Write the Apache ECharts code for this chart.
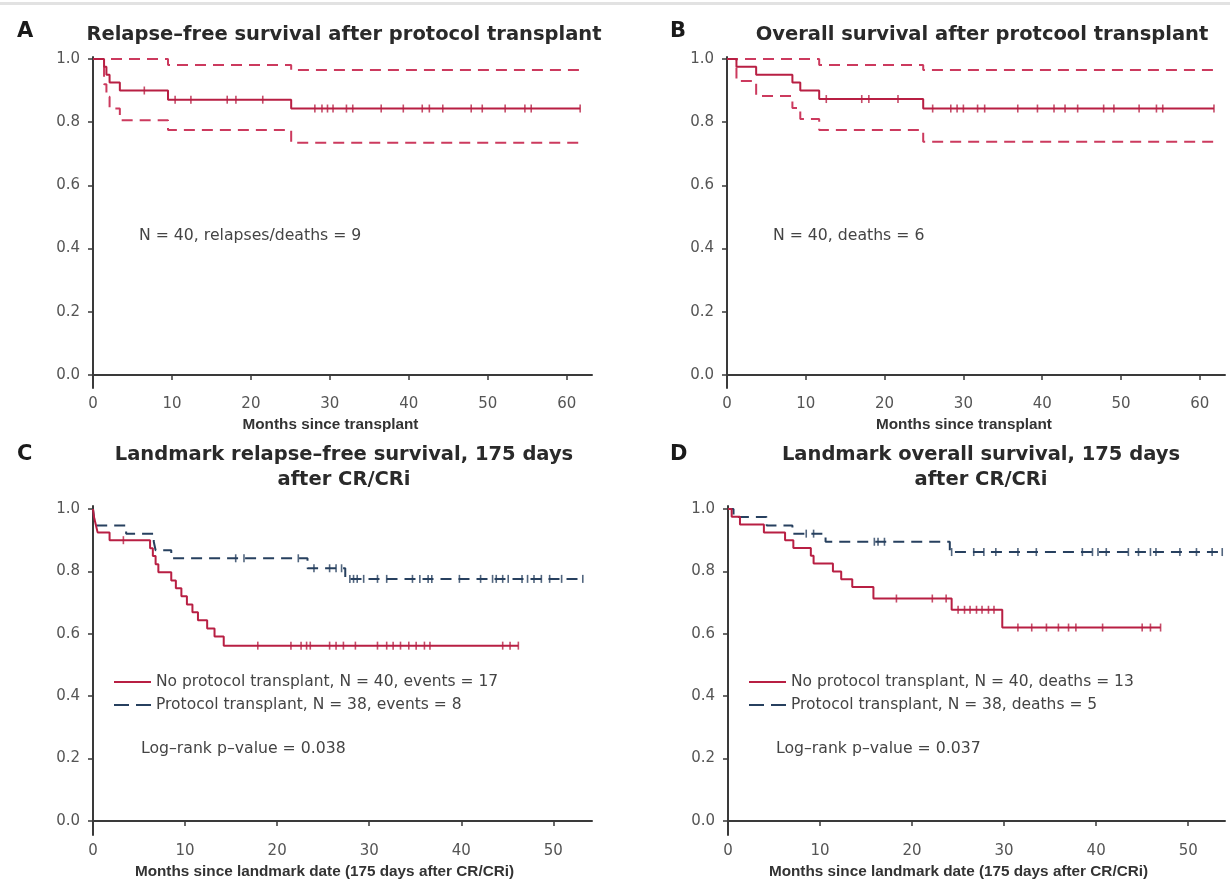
<!DOCTYPE html>
<html><head><meta charset="utf-8">
<script src="https://cdn.jsdelivr.net/npm/echarts@6/dist/echarts.min.js"></script>
<style>html,body{margin:0;padding:0;background:#fff}#c{width:1230px;height:889px}</style>
</head><body><div id="c"></div>
<script>
// ---------- Panel A: relapse-free survival after protocol transplant ----------
const A_eventT = [1.4, 1.7, 2.1, 3.4, 9.5, 25.1];
const A_surv   = [0.975, 0.95, 0.925, 0.90, 0.871, 0.843];
const A_end    = 61.7;
const A_censor = [6.5, 10.4, 12.4, 17.0, 18.1, 21.5, 28.1, 29.0, 29.7, 30.4, 32.1, 32.9, 36.5, 39.3, 41.7, 42.6, 44.3, 47.9, 49.3, 52.2, 54.7, 55.5, 61.7];
const A_upperT = [9.5, 25.1];
const A_upperS = [0.981, 0.965];
const A_lowerT = [1.4, 1.7, 2.1, 3.4, 9.5, 25.1];
const A_lowerS = [0.92, 0.88, 0.843, 0.806, 0.775, 0.735];

// ---------- Panel B: overall survival after protocol transplant ----------
const B_eventT = [1.2, 3.7, 8.3, 9.3, 11.7, 24.9];
const B_surv   = [0.975, 0.95, 0.925, 0.90, 0.873, 0.843];
const B_end    = 61.8;
const B_censor = [12.6, 17.1, 18.0, 21.7, 26.1, 28.4, 29.2, 30.0, 31.8, 32.7, 36.9, 39.4, 41.5, 42.9, 44.5, 47.8, 49.1, 52.3, 54.5, 55.3, 61.8];
const B_upperT = [11.7, 24.9];
const B_upperS = [0.981, 0.965];
const B_lowerT = [1.2, 3.7, 8.3, 9.3, 11.7, 24.9];
const B_lowerS = [0.93, 0.883, 0.845, 0.81, 0.775, 0.738];

// ---------- Panel C: landmark relapse-free survival ----------
const Cr_eventT = [0.1, 0.3, 0.5, 1.8, 6.2, 6.5, 6.8, 7.1, 8.5, 9.0, 9.6, 10.2, 10.8, 11.4, 12.4, 13.2, 14.2];
const Cr_surv   = [0.975, 0.95, 0.925, 0.90, 0.874, 0.849, 0.823, 0.797, 0.771, 0.746, 0.72, 0.694, 0.669, 0.643, 0.617, 0.591, 0.562];
const Cr_end    = 46.2;
const Cr_censor = [3.3, 17.9, 21.5, 22.6, 23.2, 23.6, 25.7, 26.4, 27.2, 28.5, 30.9, 31.9, 32.6, 33.4, 34.3, 35.1, 36.0, 36.6, 44.5, 45.3, 46.2];
const Cb_eventT = [0.1, 0.2, 3.6, 6.6, 6.8, 8.5, 23.3, 27.4];
const Cb_surv   = [0.974, 0.947, 0.921, 0.895, 0.868, 0.842, 0.81, 0.776];
const Cb_end    = 53.2;
const Cb_censor = [15.5, 16.4, 22.3, 24.0, 25.7, 26.4, 27.0, 27.9, 28.3, 28.7, 29.4, 30.9, 31.9, 34.7, 35.5, 36.4, 36.8, 39.8, 42.1, 43.4, 43.8, 44.5, 45.1, 46.6, 47.2, 47.9, 48.7, 49.6, 50.9, 53.2];

// ---------- Panel D: landmark overall survival ----------
const Dr_eventT = [0.4, 1.3, 3.9, 6.2, 7.1, 9.0, 9.3, 11.4, 12.3, 13.5, 15.8, 24.3, 29.8];
const Dr_surv   = [0.975, 0.95, 0.925, 0.90, 0.875, 0.85, 0.825, 0.80, 0.775, 0.75, 0.713, 0.677, 0.62];
const Dr_end    = 47.0;
const Dr_censor = [18.3, 22.2, 23.7, 25.0, 25.7, 26.3, 27.0, 27.6, 28.3, 28.9, 31.5, 33.0, 34.6, 35.9, 37.0, 37.8, 40.7, 45.0, 45.9, 47.0];
const Db_eventT = [0.6, 4.2, 7.0, 10.6, 24.1];
const Db_surv   = [0.974, 0.947, 0.921, 0.895, 0.862];
const Db_end    = 53.7;
const Db_censor = [8.5, 9.3, 15.9, 16.3, 17.0, 24.3, 26.7, 27.8, 29.1, 31.5, 33.5, 38.5, 39.6, 40.2, 41.1, 43.5, 44.6, 45.9, 46.5, 49.1, 50.9, 52.6, 53.7];

// ---------- ticks & labels ----------
const yTicks = [0, 0.2, 0.4, 0.6, 0.8, 1.0];
const xTicksAB = [0, 10, 20, 30, 40, 50, 60];
const xTicksCD = [0, 10, 20, 30, 40, 50];
const titles = {
  A: 'Relapse\u2013free survival after protocol transplant',
  B: 'Overall survival after protcool transplant',
  C: 'Landmark relapse\u2013free survival, 175 days\nafter CR/CRi',
  D: 'Landmark overall survival, 175 days\nafter CR/CRi'
};
const xNameAB = 'Months since transplant';
const xNameCD = 'Months since landmark date (175 days after CR/CRi)';
const noteA = 'N = 40, relapses/deaths = 9';
const noteB = 'N = 40, deaths = 6';
const legC = ['No protocol transplant, N = 40, events = 17', 'Protocol transplant, N = 38, events = 8'];
const legD = ['No protocol transplant, N = 40, deaths = 13', 'Protocol transplant, N = 38, deaths = 5'];
const pC = 'Log\u2013rank p\u2013value = 0.038';
const pD = 'Log\u2013rank p\u2013value = 0.037';

// ---------- helpers ----------
function stepData(T, S, end) {
  const d = [[0, 1]];
  T.forEach((t, i) => d.push([t, S[i]]));
  d.push([end, S[S.length - 1]]);
  return d;
}
function survAt(T, S, t) {
  let v = 1;
  for (let i = 0; i < T.length; i++) if (T[i] <= t) v = S[i];
  return v;
}
function censorData(C, T, S) { return C.map(t => [t, survAt(T, S, t)]); }

const RED = '#b81f43', CIRED = '#cc3a5e', BLUE = '#27405f', AX = '#3a3a3a';
const FONT = "'DejaVu Sans', sans-serif";
const NARROW = "'Liberation Sans Narrow', 'Liberation Sans', sans-serif";
const TFONT = "'DejaVu Sans', sans-serif";

const grids = [
  {left: 93, top: 57, width: 499, height: 331},
  {left: 727, top: 57, width: 498, height: 331},
  {left: 93, top: 506, width: 499, height: 329},
  {left: 728, top: 506, width: 497, height: 329}
];
function xAxis(i, max, ticks, name, shift) {
  return {
    type: 'value', gridIndex: i, min: 0, max: max,
    axisLine: {show: true, lineStyle: {color: AX, width: 2}},
    axisTick: {show: true, customValues: ticks, length: 5, lineStyle: {color: AX, width: 1.5}},
    axisLabel: {customValues: ticks, margin: 9, color: '#555', fontSize: 15, fontFamily: FONT},
    splitLine: {show: false},
    name: name, nameLocation: 'middle', nameGap: 29,
    nameTextStyle: {fontFamily: NARROW, fontSize: 15.3, fontWeight: 'bold', color: '#333', padding: [0, shift, 0, 0]}
  };
}
function yAxis(i, min, max) {
  return {
    type: 'value', gridIndex: i, min: min, max: max,
    axisLine: {show: true, lineStyle: {color: AX, width: 2}},
    axisTick: {show: true, customValues: yTicks, length: 5, lineStyle: {color: AX, width: 1.5}},
    axisLabel: {customValues: yTicks, margin: 13, color: '#555', fontSize: 15, fontFamily: FONT, formatter: v => v.toFixed(1)},
    splitLine: {show: false}
  };
}
function stepSeries(name, i, data, color, dashed, width) {
  return {
    name: name, type: 'line', step: 'end', xAxisIndex: i, yAxisIndex: i, data: data,
    symbol: 'none', silent: true, z: dashed ? 3 : 4,
    itemStyle: {color: color},
    lineStyle: {color: color, width: width || 2, type: dashed ? [11, 7] : 'solid'}
  };
}
function censorSeries(i, data, color) {
  return {
    type: 'scatter', xAxisIndex: i, yAxisIndex: i, data: data, silent: true, z: 5,
    symbol: 'rect', symbolSize: [1.6, 8], itemStyle: {color: color}
  };
}

const series = [
  stepSeries('A_up', 0, stepData(A_upperT, A_upperS, A_end), CIRED, true),
  stepSeries('A_lo', 0, stepData(A_lowerT, A_lowerS, A_end), CIRED, true),
  stepSeries('A_km', 0, stepData(A_eventT, A_surv, A_end), RED, false),
  censorSeries(0, censorData(A_censor, A_eventT, A_surv), RED),

  stepSeries('B_up', 1, stepData(B_upperT, B_upperS, B_end), CIRED, true),
  stepSeries('B_lo', 1, stepData(B_lowerT, B_lowerS, B_end), CIRED, true),
  stepSeries('B_km', 1, stepData(B_eventT, B_surv, B_end), RED, false),
  censorSeries(1, censorData(B_censor, B_eventT, B_surv), RED),

  stepSeries(legC[1], 2, stepData(Cb_eventT, Cb_surv, Cb_end), BLUE, true),
  censorSeries(2, censorData(Cb_censor, Cb_eventT, Cb_surv), BLUE),
  stepSeries(legC[0], 2, stepData(Cr_eventT, Cr_surv, Cr_end), RED, false),
  censorSeries(2, censorData(Cr_censor, Cr_eventT, Cr_surv), RED),

  stepSeries(legD[1], 3, stepData(Db_eventT, Db_surv, Db_end), BLUE, true),
  censorSeries(3, censorData(Db_censor, Db_eventT, Db_surv), BLUE),
  stepSeries(legD[0], 3, stepData(Dr_eventT, Dr_surv, Dr_end), RED, false),
  censorSeries(3, censorData(Dr_censor, Dr_eventT, Dr_surv), RED)
];

function txt(text, left, top, style, align) {
  return {text: text, left: left, top: top, textAlign: align || 'left', padding: 0,
    textStyle: Object.assign({fontFamily: FONT, fontSize: 15.7, fontWeight: 'normal', color: '#444'}, style)};
}
const letterStyle = {fontFamily: TFONT, fontSize: 21, fontWeight: 'bold', color: '#1a1a1a'};
const titleStyle = {fontFamily: TFONT, fontSize: 19.5, fontWeight: 'bold', color: '#2a2a2a', lineHeight: 25, align: 'center'};

const legendCommon = {orient: 'vertical', itemWidth: 37, itemHeight: 12, itemGap: 7, padding: 0,
  itemStyle: {opacity: 0, borderWidth: 0},
  textStyle: {fontFamily: FONT, fontSize: 15.5, color: '#444'}, selectedMode: false};
function legData(names) {
  return [{name: names[0]}, {name: names[1], lineStyle: {type: [15, 7]}}];
}

const option = {
  animation: false,
  backgroundColor: '#fff',
  graphic: [{type: 'rect', shape: {x: 0, y: 2, width: 1230, height: 3}, style: {fill: '#e2e2e2'}, silent: true}],
  title: [
    txt('A', 17, 21, letterStyle), txt('B', 670, 21, letterStyle),
    txt('C', 17, 444, letterStyle), txt('D', 670, 444, letterStyle),
    txt(titles.A, 344, 22, titleStyle, 'center'),
    txt(titles.B, 982, 22, titleStyle, 'center'),
    txt(titles.C, 344, 442, titleStyle, 'center'),
    txt(titles.D, 981, 442, titleStyle, 'center'),
    txt(noteA, 139, 228, {}), txt(noteB, 773, 228, {}),
    txt(pC, 141, 741, {}), txt(pD, 776, 741, {})
  ],
  legend: [
    Object.assign({left: 113, top: 674, data: legData(legC)}, legendCommon),
    Object.assign({left: 748, top: 674, data: legData(legD)}, legendCommon)
  ],
  grid: grids,
  xAxis: [
    xAxis(0, 63.2, xTicksAB, xNameAB, 24),
    xAxis(1, 63.2, xTicksAB, xNameAB, 24),
    xAxis(2, 54.2, xTicksCD, xNameCD, 36),
    xAxis(3, 54.0, xTicksCD, xNameCD, 36)
  ],
  yAxis: [yAxis(0, -0.041, 1.006), yAxis(1, -0.041, 1.006), yAxis(2, -0.045, 1.0096), yAxis(3, -0.045, 1.0096)],
  series: series
};
const chart = echarts.init(document.getElementById('c'), null, {renderer: 'canvas'});
chart.setOption(option);
</script></body></html>
